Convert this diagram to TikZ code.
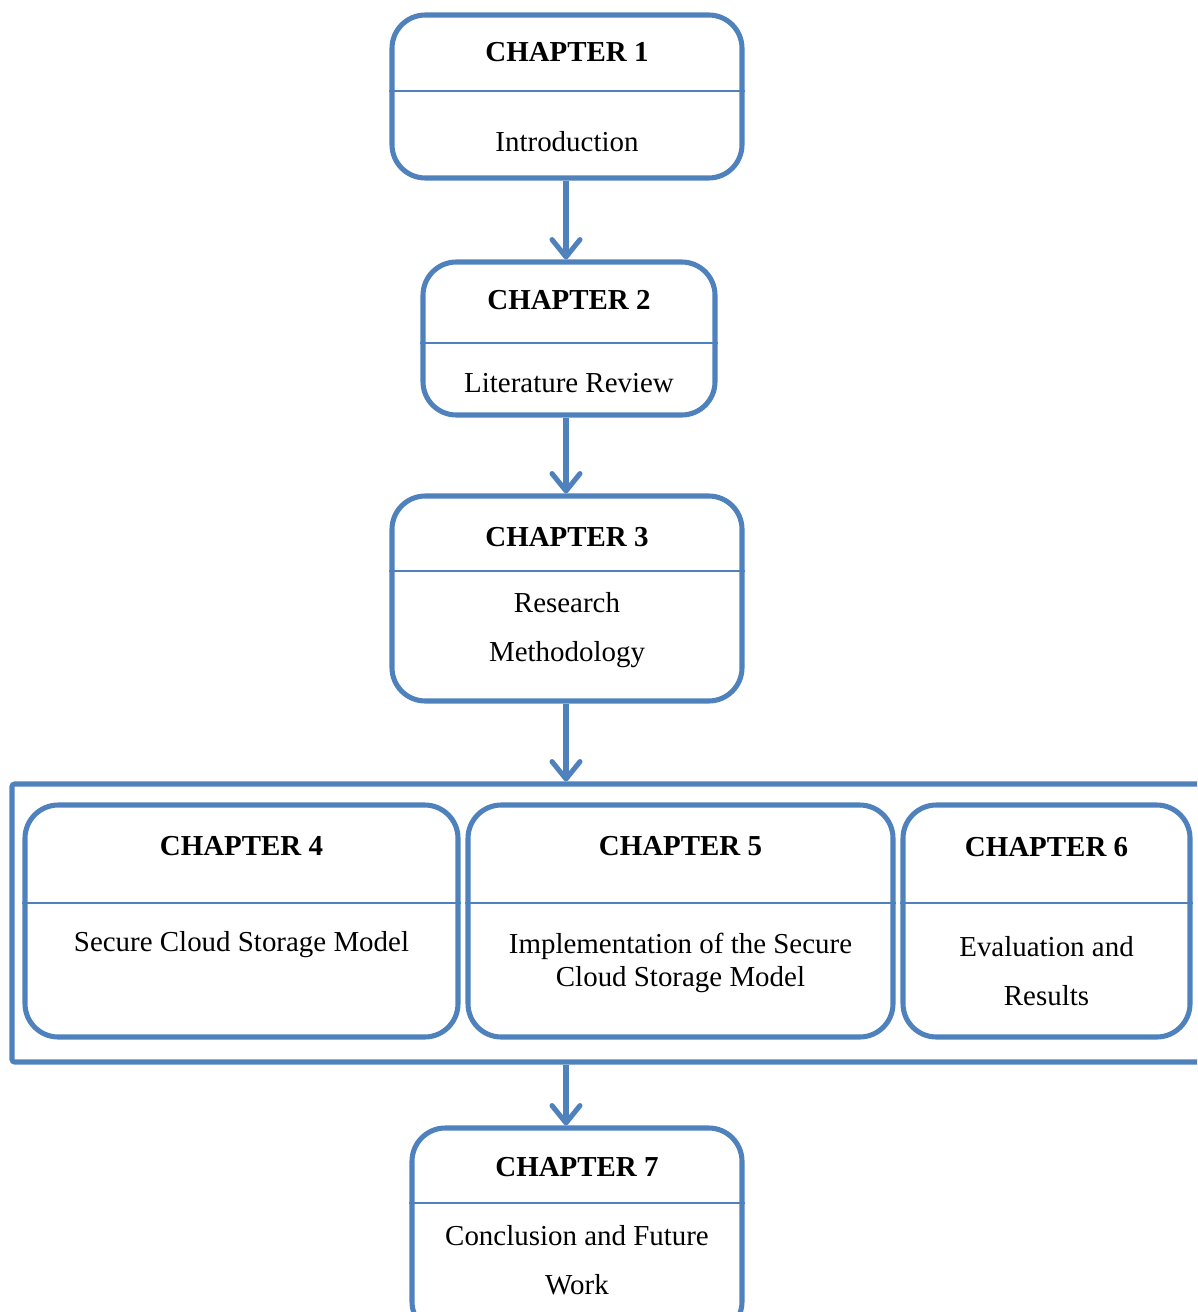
\documentclass[tikz,border=0pt]{standalone}
\usepackage{fontspec}
\setmainfont{Liberation Serif}
\usetikzlibrary{arrows.meta}
\definecolor{chapblue}{HTML}{4F81BD}
\tikzset{
  chap/.style 2 args={draw=chapblue, line width=3.8pt, rounded corners=25pt,
    minimum width=#1*0.75pt, minimum height=#2*0.75pt, inner sep=0pt},
  head/.style={font=\fontsize{21.7}{26}\selectfont\bfseries, inner sep=0pt},
  body/.style={font=\fontsize{21.7}{26}\selectfont, align=center, inner sep=0pt},
  divide/.style={draw=chapblue, line width=1.3pt},
  link/.style={draw=chapblue, line width=3.8pt,
    -{Straight Barb[length=13pt,width=21pt,round]}}
}
\begin{document}
\begin{tikzpicture}[x=0.75pt, y=-0.75pt]
\clip (0,0) rectangle (1197,1312);
\useasboundingbox (0,0) rectangle (1197,1312);
% chapter 1
\node[chap={350}{163}] (c1) at (567,96.5){};
\draw[divide] (c1.west |- 0,91) -- (c1.east |- 0,91);
\node[head] (c1h) at (567,52){CHAPTER 1};
\node[body] (c1d) at (567,142){Introduction};
% chapter 2
\node[chap={292}{153}] (c2) at (569,338.5){};
\draw[divide] (c2.west |- 0,343) -- (c2.east |- 0,343);
\node[head] (c2h) at (569,300){CHAPTER 2};
\node[body] (c2d) at (569,383){Literature Review};
% chapter 3
\node[chap={350}{205}] (c3) at (567,598.5){};
\draw[divide] (c3.west |- 0,571) -- (c3.east |- 0,571);
\node[head] (c3h) at (567,537){CHAPTER 3};
\node[body] (c3d) at (567,630){Research\\[11pt]Methodology};
% group of chapters 4-6
\node[draw=chapblue, line width=3.8pt, rounded corners=2pt, minimum width=1193*0.75pt,
  minimum height=278*0.75pt, inner sep=0pt] (grp) at (608.5,923){};
\node[chap={433}{232}] (c4) at (241.5,921){};
\draw[divide] (c4.west |- 0,903) -- (c4.east |- 0,903);
\node[head] (c4h) at (241.5,846){CHAPTER 4};
\node[body] (c4d) at (241.5,945){Secure Cloud Storage Model};
\node[chap={425}{232}] (c5) at (680.5,921){};
\draw[divide] (c5.west |- 0,903) -- (c5.east |- 0,903);
\node[head] (c5h) at (680.5,846){CHAPTER 5};
\node[body] (c5d) at (680.5,963){Implementation of the Secure\\[-1pt]Cloud Storage Model};
\node[chap={287}{232}] (c6) at (1046.5,921){};
\draw[divide] (c6.west |- 0,903) -- (c6.east |- 0,903);
\node[head] (c6h) at (1046.5,847){CHAPTER 6};
\node[body] (c6d) at (1046.5,971){Evaluation and\\[11pt]Results};
% chapter 7
\node[chap={330}{207}] (c7) at (577,1231.5){};
\draw[divide] (c7.west |- 0,1203) -- (c7.east |- 0,1203);
\node[head] (c7h) at (577,1167){CHAPTER 7};
\node[body] (c7d) at (577,1260){Conclusion and Future\\[11pt]Work};
% arrows
\draw[link] (c1.south -| 566,0) -- (c2.north -| 566,0);
\draw[link] (c2.south -| 566,0) -- (c3.north -| 566,0);
\draw[link] (c3.south -| 566,0) -- (grp.north -| 566,0);
\draw[link] (grp.south -| 566,0) -- (c7.north -| 566,0);
\end{tikzpicture}
\end{document}
